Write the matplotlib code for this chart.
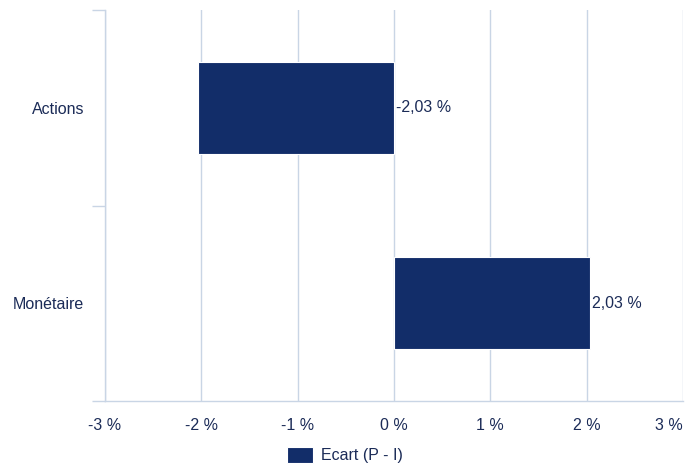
import matplotlib.pyplot as plt
import numpy as np

# Data
categories = ['Actions', 'Monétaire']
ecart = [-2.03, 2.03]
x_ticks = [-3, -2, -1, 0, 1, 2, 3]
series_name = 'Ecart (P - I)'

navy = '#122d69'
text_col = '#1b2b57'
grid_col = '#c9d5e5'
fs = 11.5

plt.rcParams['font.family'] = ['Liberation Sans', 'DejaVu Sans']

fig = plt.figure(figsize=(6.95, 4.65), dpi=100)
ax = fig.add_axes([105/695, 1 - 401/465, 578/695, 391/465])

y = np.arange(len(categories))
bars = ax.barh(y, ecart, height=0.47, color=navy, edgecolor='white',
               linewidth=0.8, label=series_name, zorder=3)

# value labels
for yi, v in zip(y, ecart):
    txt = ('%.2f %%' % v).replace('.', ',')
    ax.annotate(txt, (max(v, 0), yi), xytext=(1.5, 0), textcoords='offset points',
                ha='left', va='center', color=text_col, fontsize=fs)

ax.set_xlim(-3, 3)
ax.set_ylim(1.5, -0.5)
ax.set_xticks(x_ticks)
ax.set_xticklabels(['%d %%' % t for t in x_ticks], color=text_col, fontsize=fs)
# last label kept inside the figure
ax.get_xticklabels()[-1].set_horizontalalignment('right')
ax.set_yticks(y)
ax.set_yticklabels(categories, color=text_col, fontsize=fs)
ax.set_yticks([-0.5, 0.5, 1.5], minor=True)

ax.tick_params(axis='x', length=0, pad=12)
ax.tick_params(axis='y', which='major', length=0, pad=15)
ax.tick_params(axis='y', which='minor', length=9.5, width=1, color=grid_col)

ax.grid(axis='x', color=grid_col, linewidth=1, zorder=0)
for s in ['top', 'right']:
    ax.spines[s].set_visible(False)
for s in ['left', 'bottom']:
    ax.spines[s].set_color(grid_col)
    ax.spines[s].set_linewidth(1)

leg = fig.legend(handles=[bars], labels=[series_name], loc='center',
                 bbox_to_anchor=(345/695, 1 - 455/465), frameon=False,
                 fontsize=fs, handlelength=1.6, handleheight=1.2,
                 handletextpad=0.5, labelcolor=text_col)

fig.savefig('out.png', dpi=100)
